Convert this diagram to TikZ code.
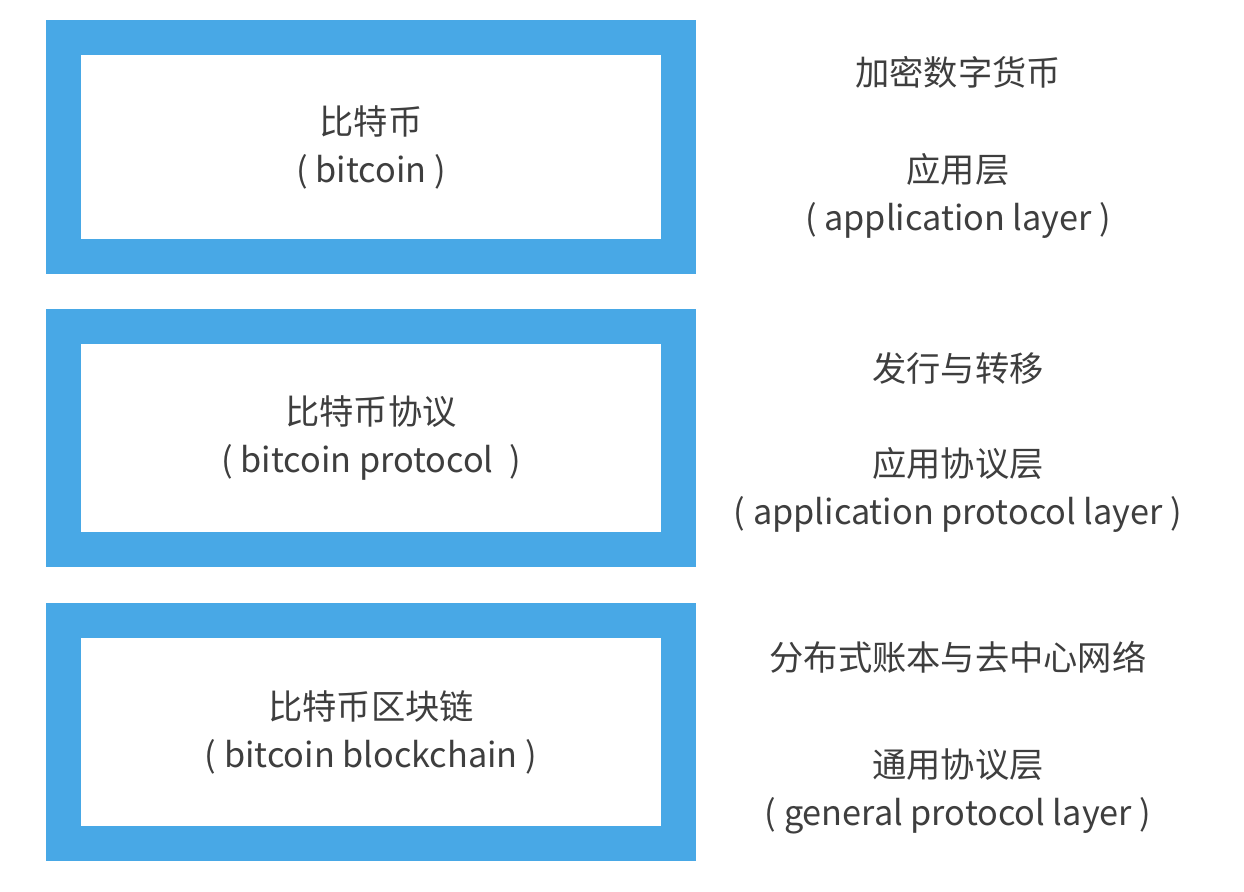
\documentclass[tikz,border=0pt]{standalone}
\usepackage{xcolor}
\usepackage{fontspec}
\usepackage{tikz}
\usetikzlibrary{positioning}
\newfontfamily\cjk{Noto Sans CJK SC}
\definecolor{layerblue}{RGB}{72,168,230}
\definecolor{txtgray}{RGB}{62,62,62}

\begin{document}
\begin{tikzpicture}[
    x=0.02cm, y=-0.02cm,
    font=\cjk\fontsize{19.5}{27.3}\selectfont,
    text=txtgray,
    layer/.style={rectangle, draw=layerblue, line width=0.7cm, fill=white,
        minimum width=12.29cm, minimum height=4.38cm, align=center},
    note/.style={align=center}
]
\useasboundingbox (0,0) rectangle (1244,892);
% stacked layers
\node[layer] (coin) at (371,147) {比特币\\( bitcoin )};
\node[layer, minimum height=4.46cm] (proto) at (371,438) {比特币协议\\( bitcoin protocol \ )};
\node[layer, minimum height=4.46cm] (chain) at (371,732) {比特币区块链\\( bitcoin blockchain )};
% descriptions on the right
\node[note] (coinuse) at (958,72) {加密数字货币};
\node[note] (coinlay) at (958,196) {应用层\\( application layer )};
\node[note] (protouse) at (958,368) {发行与转移};
\node[note] (protolay) at (958,490) {应用协议层\\( application protocol layer )};
\node[note] (chainuse) at (958,657) {分布式账本与去中心网络};
\node[note] (chainlay) at (958,791) {通用协议层\\( general protocol layer )};
\end{tikzpicture}
\end{document}
